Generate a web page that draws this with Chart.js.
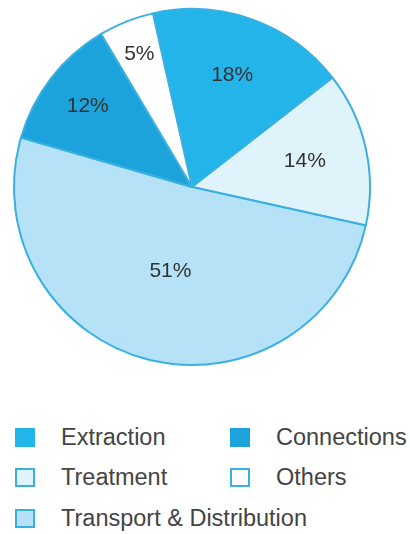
<!DOCTYPE html>
<html>
<head>
<meta charset="utf-8">
<script src="https://cdn.jsdelivr.net/npm/chart.js@4"></script>
<style>
  body { margin: 0; background: #fff; font-family: "Liberation Sans", Arial, sans-serif; }
  #wrap { position: absolute; left: 0; top: 0; width: 384px; height: 374px; }
  .leg { position: absolute; font-size: 23.5px; color: #444; line-height: 24px; }
  .leg span.box { position: absolute; left: 0; top: -9px; width: 20px; height: 19px; box-sizing: border-box; border: 2px solid #3ab0e0; }
  .leg span.txt { position: absolute; left: 46px; top: -12px; white-space: nowrap; }
</style>
</head>
<body>
<div id="wrap"><canvas id="pie_chart"></canvas></div>
<div id="legend"></div>
<script>
// slices in drawing order (clockwise from just left of top)
var pie_labels = ["Extraction", "Treatment", "Transport & Distribution", "Connections", "Others"];
var pie_values = [18, 14, 51, 12, 5];
var pie_colors = ["#23b5ea", "#dff3fb", "#b5e2f7", "#1ca3dc", "#ffffff"];
// legend order, two columns
var legend_order = ["Extraction", "Connections", "Treatment", "Others", "Transport & Distribution"];

// how far out the % label sits, as a share of the radius
var label_pos = [0.67, 0.65, 0.49, 0.74, 0.80];

var pctLabels = {
    id: 'pctLabels',
    afterDatasetsDraw: function (chart) {
        var ctx = chart.ctx;
        var meta = chart.getDatasetMeta(0);
        ctx.save();
        ctx.font = '21px "Liberation Sans", Arial, sans-serif';
        ctx.fillStyle = '#333';
        ctx.textAlign = 'center';
        ctx.textBaseline = 'middle';
        for (var i = 0; i < meta.data.length; i++) {
            var arc = meta.data[i];
            var mid = (arc.startAngle + arc.endAngle) / 2;
            var r = arc.outerRadius * label_pos[i];
            ctx.fillText(pie_values[i] + '%', arc.x + Math.cos(mid) * r, arc.y + Math.sin(mid) * r);
        }
        ctx.restore();
    }
};

function buildPieChart() {
    var pc = document.getElementById('pie_chart');
    new Chart(pc, {
        type: 'pie',
        data: {
            labels: pie_labels,
            datasets: [{
                data: pie_values,
                backgroundColor: pie_colors,
                borderColor: "#3ab0e0",
                borderWidth: 2
            }]
        },
        options: {
            responsive: true,
            maintainAspectRatio: false,
            animation: false,
            rotation: -12.7,
            layout: { padding: 8 },
            plugins: {
                legend: { display: false },
                tooltip: { enabled: false }
            }
        },
        plugins: [pctLabels]
    });
}

function buildLegend() {
    var lg = document.getElementById('legend');
    var cols = [15, 230];
    var rows = [437, 477, 518];
    for (var i = 0; i < legend_order.length; i++) {
        var idx = pie_labels.indexOf(legend_order[i]);
        var d = document.createElement('div');
        d.className = 'leg';
        d.style.left = cols[i % 2] + 'px';
        d.style.top = rows[Math.floor(i / 2)] + 'px';
        var b = document.createElement('span');
        b.className = 'box';
        b.style.background = pie_colors[idx];
        if (idx === 0 || idx === 3) b.style.borderColor = pie_colors[idx];
        var t = document.createElement('span');
        t.className = 'txt';
        t.textContent = legend_order[i];
        d.appendChild(b);
        d.appendChild(t);
        lg.appendChild(d);
    }
}

buildPieChart();
buildLegend();
</script>
</body>
</html>
